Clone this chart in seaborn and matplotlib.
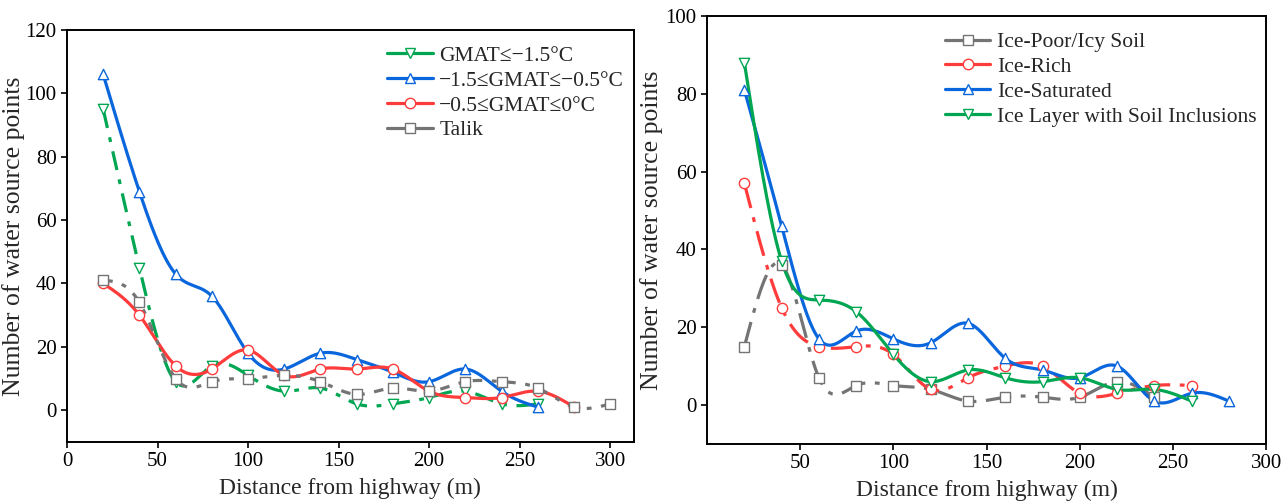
import numpy as np
import pandas as pd
import matplotlib
matplotlib.use("Agg")
import matplotlib.pyplot as plt
from matplotlib.lines import Line2D
import seaborn as sns

# ---------------- data ----------------
x_all = [20, 40, 60, 80, 100, 120, 140, 160, 180, 200, 220, 240, 260, 280, 300]

# left panel (GMAT classes)
left_names = ["GMAT\u2264\u22121.5\u00b0C", "\u22121.5\u2264GMAT\u2264\u22120.5\u00b0C",
              "\u22120.5\u2264GMAT\u22640\u00b0C", "Talik"]
gmat_cold = [95, 45, 9, 14, 11, 6, 7, 2, 2, 4, 6, 2, 2]
gmat_mid = [106, 69, 43, 36, 18, 13, 18, 16, 12, 9, 13, 6, 1]
gmat_warm = [40, 30, 14, 13, 19, 11, 13, 13, 13, 6, 4, 4, 6, 1]
talik = [41, 34, 10, 9, 10, 11, 9, 5, 7, 6, 9, 9, 7, 1, 2]

# right panel (ground ice content)
right_names = ["Ice-Poor/Icy Soil", "Ice-Rich", "Ice-Saturated", "Ice Layer with Soil Inclusions"]
ice_poor = [15, 36, 7, 5, 5, 4, 1, 2, 2, 2, 6, 2]
ice_rich = [57, 25, 15, 15, 13, 4, 7, 10, 10, 3, 3, 5, 5]
ice_sat = [81, 46, 17, 19, 17, 16, 21, 12, 9, 7, 10, 1, 3, 1]
ice_layer = [88, 37, 27, 24, 13, 6, 9, 7, 6, 7, 4, 4, 1]

GREEN, BLUE, RED, GRAY = "#00A651", "#0A66DC", "#FF3B3B", "#747474"


def natural_spline(x, y, n=40):
    x = np.asarray(x, float)
    y = np.asarray(y, float)
    m = len(x)
    h = np.diff(x)
    A = np.zeros((m, m))
    b = np.zeros(m)
    A[0, 0] = A[-1, -1] = 1
    for i in range(1, m - 1):
        A[i, i - 1] = h[i - 1]
        A[i, i] = 2 * (h[i - 1] + h[i])
        A[i, i + 1] = h[i]
        b[i] = 6 * ((y[i + 1] - y[i]) / h[i] - (y[i] - y[i - 1]) / h[i - 1])
    M = np.linalg.solve(A, b)
    xs, ys = [], []
    for i in range(m - 1):
        t = np.linspace(x[i], x[i + 1], n, endpoint=False)
        a = (x[i + 1] - t) / h[i]
        c = (t - x[i]) / h[i]
        s = (a * y[i] + c * y[i + 1]
             + ((a ** 3 - a) * M[i] + (c ** 3 - c) * M[i + 1]) * h[i] ** 2 / 6)
        xs.append(t)
        ys.append(s)
    xs.append([x[-1]])
    ys.append([y[-1]])
    return np.concatenate(xs), np.concatenate(ys)


sns.set_theme(style="ticks")
plt.rcParams["font.family"] = ["Liberation Serif", "DejaVu Serif"]
plt.rcParams["axes.linewidth"] = 1.4
plt.rcParams["xtick.major.width"] = 1.2
plt.rcParams["ytick.major.width"] = 1.2
plt.rcParams["xtick.major.size"] = 4
plt.rcParams["ytick.major.size"] = 4

fig = plt.figure(figsize=(12.88, 5.01), dpi=100)
axL = fig.add_axes([0.052, 0.118, 0.440, 0.822])
axR = fig.add_axes([0.549, 0.114, 0.434, 0.854])

LW = 2.3


def draw(ax, vals, color, marker, dashes):
    xs = x_all[:len(vals)]
    sx, sy = natural_spline(xs, vals)
    df_line = pd.DataFrame({"x": sx, "y": sy})
    sns.lineplot(data=df_line, x="x", y="y", ax=ax, color=color, lw=LW,
                 sort=False, zorder=2)
    ln = ax.lines[-1]
    if dashes is not None:
        ln.set_dashes(dashes)
    df_pts = pd.DataFrame({"x": xs, "y": vals})
    sns.scatterplot(data=df_pts, x="x", y="y", ax=ax, marker=marker, s=55,
                    facecolor="white", edgecolor=color, linewidth=1.0, zorder=3)
    return Line2D([], [], color=color, lw=LW, marker=marker, markersize=7.5,
                  markerfacecolor="white", markeredgecolor=color,
                  markeredgewidth=1.0, linestyle="-")


LEG = dict(loc="upper right", frameon=False, fontsize=15.5, handlelength=2.1,
           handletextpad=0.3, labelspacing=0.22, borderaxespad=0.15,
           borderpad=0.3)

# ---------- left ----------
hL = []
hL.append(draw(axL, gmat_cold, GREEN, "v", (6, 3, 1.5, 3)))
hL.append(draw(axL, gmat_mid, BLUE, "^", None))
hL.append(draw(axL, gmat_warm, RED, "o", None))
hL.append(draw(axL, talik, GRAY, "s", (3, 3, 1.5, 3)))
axL.legend(hL, left_names, bbox_to_anchor=(1.0, 0.985), **LEG)
axL.set_xlim(0, 313)
axL.set_ylim(-10, 120)
axL.set_xticks([0, 50, 100, 150, 200, 250, 300])
axL.set_yticks([0, 20, 40, 60, 80, 100, 120])
axL.set_xlabel("Distance from highway (m)", fontsize=17, labelpad=5)
axL.set_ylabel("Number of water source points", fontsize=18.5, labelpad=0)

# ---------- right ----------
hR = []
hR.append(draw(axR, ice_poor, GRAY, "s", (8, 3, 1.5, 3)))
hR.append(draw(axR, ice_rich, RED, "o", (8, 3, 1.5, 3)))
hR.append(draw(axR, ice_sat, BLUE, "^", None))
hR.append(draw(axR, ice_layer, GREEN, "v", None))
axR.legend(hR, right_names, bbox_to_anchor=(1.0, 0.985), **LEG)
axR.set_xlim(0, 300)
axR.set_ylim(-10, 100)
axR.set_xticks([50, 100, 150, 200, 250, 300])
axR.set_yticks([0, 20, 40, 60, 80, 100])
axR.set_xlabel("Distance from highway (m)", fontsize=17, labelpad=5)
axR.set_ylabel("Number of water source points", fontsize=18.5, labelpad=2)

for ax in (axL, axR):
    ax.tick_params(labelsize=15, direction="out", colors="black")
    for s in ax.spines.values():
        s.set_visible(True)
        s.set_color("black")
    ax.set_facecolor("white")

fig.savefig("out.png", dpi=100, facecolor="white")
